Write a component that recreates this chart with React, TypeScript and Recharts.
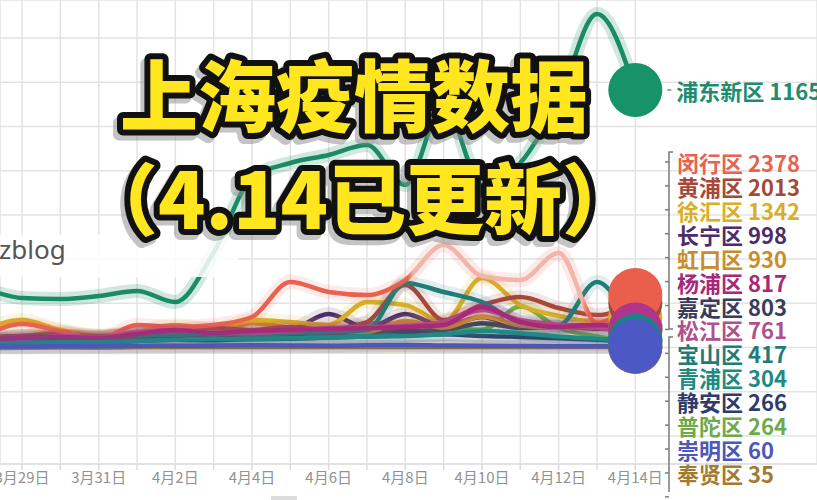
import React from 'react';
import { LineChart, Line, XAxis, YAxis, CartesianGrid } from 'recharts';

// ---- categories (day index: -1 = 3月28日 ... 16 = 4月14日)
const dayIndex = [-1, 0, 1, 2, 3, 4, 5, 6, 7, 8, 9, 10, 11, 12, 13, 14, 15, 16];
const dayLabels = ['3月28日', '3月29日', '3月30日', '3月31日', '4月1日', '4月2日', '4月3日', '4月4日', '4月5日', '4月6日', '4月7日', '4月8日', '4月9日', '4月10日', '4月11日', '4月12日', '4月13日', '4月14日'];

// ---- series values (daily new cases per district)
const pudong = [2692, 2240, 2195, 2330, 2557, 2059, 4300, 7670, 8349, 8711, 9161, 7353, 11000, 7353, 8349, 11199, 15091, 11651];
const minhang = [520, 1063, 747, 385, 1018, 928, 1018, 1380, 2964, 2511, 2375, 3054, 4638, 3235, 3054, 4276, 1108, 2378];
const huangpu = [430, 520, 611, 520, 656, 792, 882, 792, 928, 792, 1154, 2828, 1244, 1923, 2285, 1787, 1471, 2013];
const xuhui = [792, 1244, 792, 566, 701, 1018, 792, 1244, 1154, 1018, 2059, 1923, 1154, 3145, 1923, 1425, 1154, 1342];
const changning = [430, 520, 520, 430, 611, 656, 611, 656, 792, 1516, 882, 1516, 973, 1380, 928, 973, 1018, 998];
const hongkou = [400, 500, 700, 500, 600, 800, 700, 1100, 900, 800, 700, 1200, 900, 1400, 1000, 900, 950, 930];
const yangpu = [339, 430, 475, 430, 611, 792, 656, 747, 792, 837, 882, 928, 1018, 1833, 1154, 928, 1018, 817];
const jiading = [294, 339, 385, 339, 430, 475, 520, 566, 611, 656, 701, 747, 792, 1100, 882, 928, 850, 803];
const songjiang = [339, 385, 520, 475, 701, 792, 656, 656, 747, 882, 928, 973, 1154, 1697, 1244, 1018, 882, 761];
const baoshan = [339, 430, 520, 475, 566, 566, 656, 566, 656, 701, 792, 2918, 2511, 2059, 1154, 1018, 2964, 417];
const qingpu = [150, 200, 250, 230, 300, 350, 400, 380, 420, 450, 500, 520, 600, 750, 650, 500, 400, 304];
const jingan = [150, 200, 250, 220, 300, 350, 330, 380, 400, 450, 500, 550, 600, 520, 480, 420, 350, 266];
const putuo = [200, 250, 300, 250, 350, 400, 450, 500, 550, 700, 1100, 1050, 900, 800, 1850, 900, 500, 264];
const chongming = [40, 50, 60, 55, 70, 80, 90, 100, 90, 80, 100, 110, 90, 80, 70, 60, 55, 60];
const fengxian = [20, 25, 30, 28, 35, 40, 45, 50, 45, 40, 50, 55, 45, 40, 35, 30, 32, 35];
const jinshan = [10, 12, 15, 14, 18, 20, 22, 25, 24, 22, 26, 28, 25, 24, 22, 20, 25, 28];

// ---- titles / ticks
const titleLines = ['上海疫情数据', '（4.14已更新）'];
const watermark = 'zblog';
const xTicks = [0, 1, 2, 3, 4, 5, 6, 7, 8, 9, 10, 11, 12, 13, 14, 15, 16];
const yTicks = [-4000, -2000, 0, 2000, 4000, 6000, 8000, 10000, 12000, 14000];

type S = { key: string; name: string; values: number[]; color: string; dot: string };

const series: S[] = [
  { key: 'pudong', name: '浦东新区', values: pudong, color: '#1B8A66', dot: '#17936A' },
  { key: 'minhang', name: '闵行区', values: minhang, color: '#E8624F', dot: '#EA5F4C' },
  { key: 'huangpu', name: '黄浦区', values: huangpu, color: '#A5483A', dot: '#A5483A' },
  { key: 'xuhui', name: '徐汇区', values: xuhui, color: '#D9AE27', dot: '#D9AE27' },
  { key: 'changning', name: '长宁区', values: changning, color: '#4B2D6B', dot: '#4B2D6B' },
  { key: 'hongkou', name: '虹口区', values: hongkou, color: '#C98E2B', dot: '#C98E2B' },
  { key: 'yangpu', name: '杨浦区', values: yangpu, color: '#A8287A', dot: '#B0358A' },
  { key: 'jiading', name: '嘉定区', values: jiading, color: '#393C5E', dot: '#393C5E' },
  { key: 'songjiang', name: '松江区', values: songjiang, color: '#B0508C', dot: '#B0508C' },
  { key: 'baoshan', name: '宝山区', values: baoshan, color: '#1F7C78', dot: '#1F7C78' },
  { key: 'qingpu', name: '青浦区', values: qingpu, color: '#1E8A84', dot: '#1C8086' },
  { key: 'jingan', name: '静安区', values: jingan, color: '#2E3C6A', dot: '#2E3C6A' },
  { key: 'putuo', name: '普陀区', values: putuo, color: '#6DAA4C', dot: '#6DAA4C' },
  { key: 'chongming', name: '崇明区', values: chongming, color: '#4C57B8', dot: '#4C58C4' },
  { key: 'fengxian', name: '奉贤区', values: fengxian, color: '#A27A32', dot: '#A27A32' },
  { key: 'jinshan', name: '金山区', values: jinshan, color: '#555555', dot: '#555555' },
];

const drawOrder = ['pudong', 'jinshan', 'fengxian', 'jingan', 'putuo', 'jiading', 'changning', 'hongkou', 'xuhui', 'huangpu', 'baoshan', 'minhang', 'songjiang', 'yangpu', 'qingpu', 'chongming'];
const legendOrder = ['minhang', 'huangpu', 'xuhui', 'changning', 'hongkou', 'yangpu', 'jiading', 'songjiang', 'baoshan', 'qingpu', 'jingan', 'putuo', 'chongming', 'fengxian', 'jinshan'];

const data = dayIndex.map((d, i) => {
  const row: Record<string, number> = { day: d };
  series.forEach((s) => {
    row[s.key] = s.values[i];
  });
  return row;
});

const lastIndex = dayIndex.length - 1;
const byKey: Record<string, S> = {};
series.forEach((s) => (byKey[s.key] = s));

const CJK = '"Noto Sans CJK SC", "Noto Sans", sans-serif';

const makeDot = (s: S) => (props: any) => {
  const { cx, cy, index } = props;
  if (index !== lastIndex || cx == null || cy == null) return <g key={`d-${s.key}-${index}`} />;
  const last = s.values[s.values.length - 1];
  return (
    <g key={`d-${s.key}-${index}`}>
      <circle cx={cx} cy={cy} r={27} fill={s.dot} />
      {s.key === 'pudong' && (
        <g>
          <line x1={cx + 32} x2={cx + 36} y1={cy} y2={cy} stroke="#888" strokeWidth={1.5} />
          <text x={cx + 41} y={cy} dominantBaseline="central" fontFamily={CJK} fontWeight={700} fontSize={22} fill="#1E8C6E">
            {s.name} {last}
          </text>
        </g>
      )}
    </g>
  );
};

export default function App() {
  const rowY0 = 162;
  const rowStep = 23.92;
  return (
    <div style={{ position: 'absolute', left: 0, top: 0, width: 817, height: 500, background: '#fff', overflow: 'hidden' }}>
      <LineChart width={817} height={500} data={data} margin={{ top: 0, right: 0, bottom: 0, left: 0 }}>
        <defs>
          <linearGradient id="minhangGrad" gradientUnits="userSpaceOnUse" x1={0} x2={817} y1={0} y2={0}>
            <stop offset="0" stopColor="#E8624F" />
            <stop offset="0.499" stopColor="#E8624F" />
            <stop offset="0.506" stopColor="#F3B5AA" />
            <stop offset="0.712" stopColor="#F3B5AA" />
            <stop offset="0.72" stopColor="#E8624F" />
            <stop offset="1" stopColor="#E8624F" />
          </linearGradient>
        </defs>
        <CartesianGrid stroke="#e3e3e3" strokeWidth={1.5} />
        <XAxis
          type="number"
          dataKey="day"
          domain={[-0.574, 20.74]}
          allowDataOverflow
          ticks={xTicks}
          interval={0}
          height={36}
          tickSize={6}
          axisLine={{ stroke: '#e0e0e0', strokeWidth: 1.5 }}
          tickLine={{ stroke: '#dcdcdc', strokeWidth: 1.5 }}
          tick={{ fill: '#929292', fontSize: 15, fontFamily: CJK }}
          tickFormatter={(v: number) => (v % 2 === 0 ? dayLabels[v + 1] : '')}
        />
        <YAxis type="number" hide domain={[-5271, 15724]} allowDataOverflow ticks={yTicks} />
        {drawOrder.map((k) => {
          const s = byKey[k];
          return [
            <Line
              key={`h-${k}`}
              type="monotone"
              dataKey={k}
              stroke={s.color}
              strokeOpacity={k === 'pudong' ? 0.2 : 0.13}
              strokeWidth={14}
              dot={false}
              activeDot={false}
              isAnimationActive={false}
            />,
            <Line
              key={`l-${k}`}
              type="monotone"
              dataKey={k}
              stroke={k === 'minhang' ? 'url(#minhangGrad)' : s.color}
              strokeWidth={4.5}
              dot={makeDot(s)}
              activeDot={false}
              isAnimationActive={false}
            />,
          ];
        })}
      </LineChart>
      <svg width={817} height={500} style={{ position: 'absolute', left: 0, top: 0, pointerEvents: 'none' }}>
        {/* watermark band */}
        <rect x={0} y={235} width={238} height={42} fill="#fff" opacity={0.85} />
        <text x={-1} y={259} fontFamily='"Noto Sans", sans-serif' fontSize={26} fill="#555">
          {watermark}
        </text>
        <rect x={271} y={496} width={26} height={4} fill="#dcdcdc" />
        {/* legend list */}
        <g stroke="#7a7a7a" strokeWidth={1.5} fill="none">
          <polyline points="673,152 669,152 669,329 673,329" />
          <polyline points="673,337 669,337 669,492" />
          {legendOrder.map((k, i) => (
            <line key={`t-${k}`} x1={665} x2={669} y1={rowY0 + i * rowStep} y2={rowY0 + i * rowStep} />
          ))}
        </g>
        {legendOrder.map((k, i) => {
          const s = byKey[k];
          const y = i === legendOrder.length - 1 ? 509 : rowY0 + i * rowStep;
          return (
            <text
              key={`lg-${k}`}
              x={677}
              y={y}
              dominantBaseline="central"
              fontFamily={CJK}
              fontWeight={700}
              fontSize={22}
              fill={s.color}
            >
              {s.name} {s.values[s.values.length - 1]}
            </text>
          );
        })}
        {/* title */}
        <g fontFamily={CJK} fontWeight={900} fontSize={78}>
          <g transform="translate(-4,5)" fill="#8a8a8a" stroke="#8a8a8a" strokeWidth={12} opacity={0.5} strokeLinejoin="round">
            <text x={354} y={126} textAnchor="middle">{titleLines[0]}</text>
            <text x={80} y={229}>{titleLines[1]}</text>
          </g>
          <g fill="#FFE61E" stroke="#111" strokeWidth={12} strokeLinejoin="round" style={{ paintOrder: 'stroke' }}>
            <text x={354} y={126} textAnchor="middle">{titleLines[0]}</text>
            <text x={80} y={229}>{titleLines[1]}</text>
          </g>
        </g>
      </svg>
    </div>
  );
}
